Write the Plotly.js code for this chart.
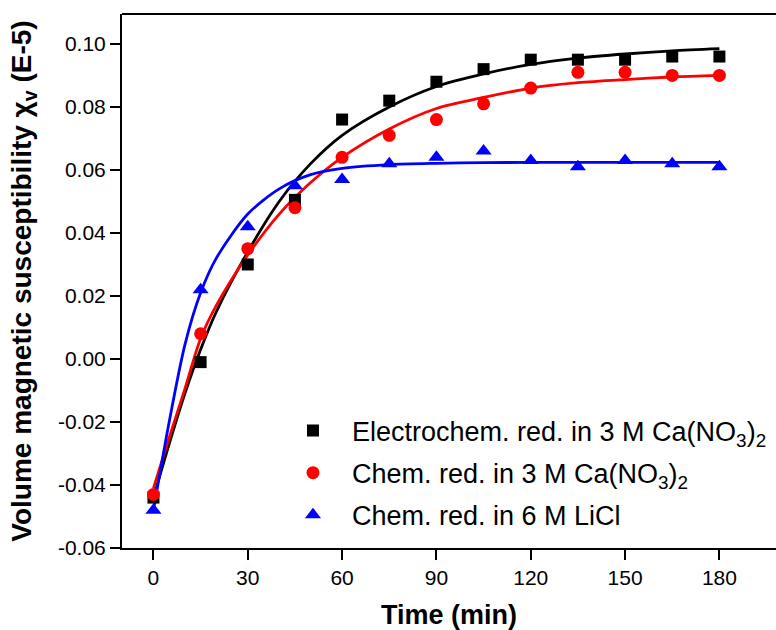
<!DOCTYPE html>
<html>
<head>
<meta charset="utf-8">
<script src="https://cdn.plot.ly/plotly-3.0.1.min.js"></script>
<style>html,body{margin:0;padding:0;background:#fff;}#chart{width:776px;height:630px;}</style>
</head>
<body>
<div id="chart"></div>
<script>
// Measured times (min)
var timeMin = [0, 15, 30, 45, 60, 75, 90, 105, 120, 135, 150, 165, 180];
// Measured susceptibility (E-5)
var electroCaNO3 = [-0.044, -0.001, 0.030, 0.0505, 0.076, 0.082, 0.088, 0.092, 0.095, 0.095, 0.095, 0.096, 0.096];
var chemCaNO3    = [-0.043, 0.008, 0.035, 0.048, 0.064, 0.071, 0.076, 0.081, 0.086, 0.091, 0.091, 0.090, 0.090];
var chemLiCl     = [-0.048, 0.022, 0.042, 0.055, 0.057, 0.062, 0.064, 0.066, 0.063, 0.061, 0.063, 0.062, 0.061];

// Fitted curves
var fitTime      = [0, 5, 10, 15, 20, 30, 40, 50, 60, 75, 90, 105, 120, 135, 150, 165, 180];
var fitElectroCa = [-0.044, -0.027, -0.011, 0.003, 0.015, 0.034, 0.050, 0.062, 0.071, 0.080, 0.0865, 0.0905, 0.0935, 0.0955, 0.0968, 0.0978, 0.0985];
var fitChemCa    = [-0.041, -0.025, -0.0095, 0.0065, 0.017, 0.033, 0.046, 0.056, 0.064, 0.073, 0.0795, 0.083, 0.086, 0.0877, 0.0887, 0.0895, 0.090];
var fitChemLiCl  = [-0.048, -0.020, 0.0045, 0.021, 0.032, 0.046, 0.054, 0.0585, 0.0605, 0.0617, 0.0621, 0.0623, 0.0624, 0.0624, 0.0624, 0.0624, 0.0624];

var seriesNames = [
  'Electrochem. red. in 3 M Ca(NO<sub>3</sub>)<sub>2</sub>',
  'Chem. red. in 3 M Ca(NO<sub>3</sub>)<sub>2</sub>',
  'Chem. red. in 6 M LiCl'
];

var xTickVals = [0, 30, 60, 90, 120, 150, 180];
var yTickVals = [-0.06, -0.04, -0.02, 0.00, 0.02, 0.04, 0.06, 0.08, 0.10];
var yTickText = ['-0.06', '-0.04', '-0.02', '0.00', '0.02', '0.04', '0.06', '0.08', '0.10'];

var FONT = 'Arial, "Liberation Sans", sans-serif';

function fitTrace(y, color) {
  return {x: fitTime, y: y, mode: 'lines', type: 'scatter', showlegend: false,
    hoverinfo: 'skip', line: {color: color, width: 2.8, shape: 'spline', smoothing: 0.8}};
}
function markTrace(y, name, color, symbol, size, grp) {
  return {x: timeMin, y: y, mode: 'markers', type: 'scatter', name: name, legendgroup: grp,
    marker: {color: color, symbol: symbol, size: size, line: {width: 0}}};
}

var data = [
  fitTrace(fitElectroCa, '#000000'),
  fitTrace(fitChemCa, '#ff0000'),
  fitTrace(fitChemLiCl, '#0000ff'),
  markTrace(electroCaNO3, seriesNames[0], '#000000', 'square', 12, 'a'),
  markTrace(chemCaNO3, seriesNames[1], '#ff0000', 'circle', 13, 'b'),
  markTrace(chemLiCl, seriesNames[2], '#0000ff', 'triangle-up', 14, 'c')
];

var layout = {
  width: 776, height: 630,
  margin: {l: 122, r: 0, t: 14, b: 82},
  paper_bgcolor: '#ffffff', plot_bgcolor: '#ffffff',
  font: {family: FONT, color: '#000000'},
  showlegend: true,
  legend: {x: 0.2324, y: 0.265, xanchor: 'left', yanchor: 'top', bgcolor: 'rgba(0,0,0,0)',
    itemwidth: 68,
    font: {family: FONT, size: 27, color: '#000000'}, tracegroupgap: 4, traceorder: 'grouped'},
  xaxis: {
    range: [-10, 198], tickvals: xTickVals, showgrid: false, zeroline: false,
    showline: true, linecolor: '#000', linewidth: 2,
    ticks: 'outside', ticklen: 10, tickwidth: 2, tickcolor: '#000',
    tickfont: {family: FONT, size: 21, color: '#000'},
    title: {text: '<b>Time (min)</b>', font: {family: FONT, size: 27, color: '#000'}, standoff: 19}
  },
  yaxis: {
    range: [-0.06, 0.1095], tickvals: yTickVals, ticktext: yTickText, showgrid: false, zeroline: false,
    showline: true, linecolor: '#000', linewidth: 2,
    ticks: 'outside', ticklen: 10, tickwidth: 2, tickcolor: '#000',
    tickfont: {family: FONT, size: 21, color: '#000'},
    title: {text: '<b>Volume magnetic susceptibility χ<sub>v</sub> (E-5)</b>', font: {family: FONT, size: 28, color: '#000'}, standoff: 18}
  },
  shapes: [{type: 'line', xref: 'paper', yref: 'paper', x0: 0, x1: 1, y0: 1, y1: 1, line: {color: '#000', width: 2}}]
};

Plotly.newPlot('chart', data, layout, {displayModeBar: false, staticPlot: true});
</script>
</body>
</html>
